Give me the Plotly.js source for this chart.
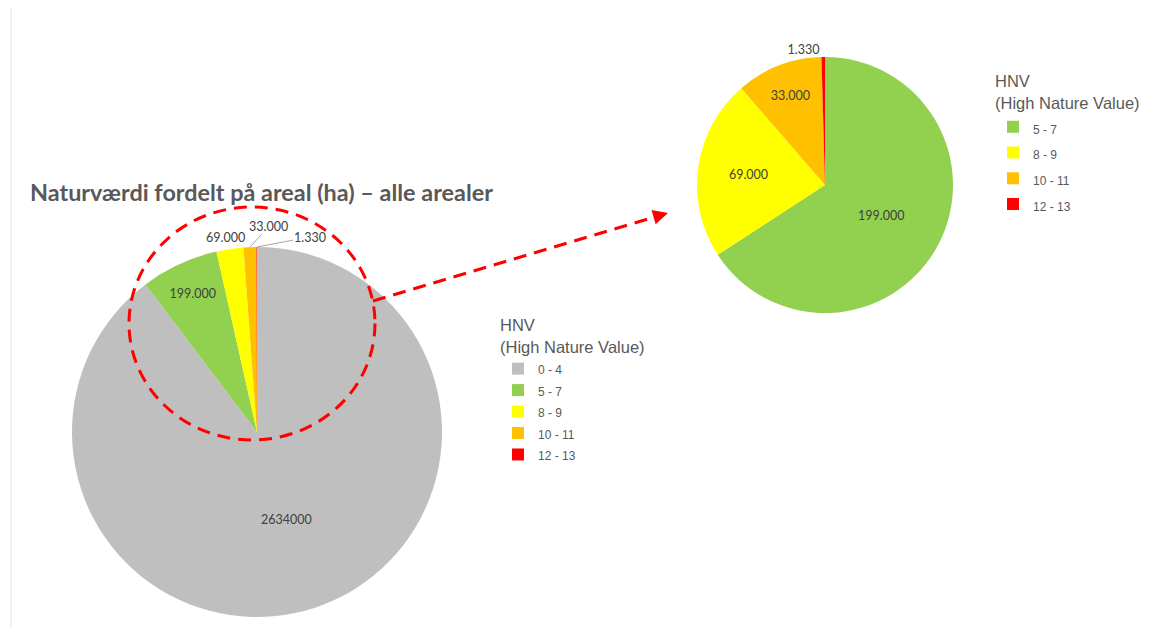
<!DOCTYPE html>
<html>
<head>
<meta charset="utf-8">
<script src="https://cdn.plot.ly/plotly-3.0.1.min.js"></script>
<style>html,body{margin:0;padding:0;background:#fff;}#chart{width:1162px;height:628px;}</style>
</head>
<body>
<div id="chart"></div>
<script>
// ---- data ----
const titleText = 'Naturværdi fordelt på areal (ha) – alle arealer';
const legendTitle = 'HNV<br>(High Nature Value)';

const allLabels = ['0 - 4', '5 - 7', '8 - 9', '10 - 11', '12 - 13'];
const allValues = [2634000, 199000, 69000, 33000, 1330];
const allColors = ['#bfbfbf', '#92d050', '#ffff00', '#ffc000', '#ff0000'];
const allTextPos = ['inside', 'inside', 'none', 'none', 'none'];
const allFormat = ['%{value:d}', '%{value:,}', '%{value:,}', '%{value:,}', '%{value:,}'];

const hnvLabels = ['5 - 7', '8 - 9', '10 - 11', '12 - 13'];
const hnvValues = [199000, 69000, 33000, 1330];
const hnvColors = ['#92d050', '#ffff00', '#ffc000', '#ff0000'];
const hnvTextPos = ['inside', 'inside', 'inside', 'outside'];
const hnvFormat = ['%{value:,}', '%{value:,}', '%{value:,}', '%{value:,}'];

// ---- helpers ----
const W = 1162, H = 628;
const px = v => v / W;
const py = v => 1 - v / H;
const wrap1 = l => '<span style="font-size:12px">' + l + '</span>';
const wrap2 = l => '<span style="font-size:12px;">' + l + '</span>';
const fmtDK = v => String(v).replace(/\B(?=(\d{3})+(?!\d))/g, '.');

const labelFont = {family: 'Lato, "Open Sans", sans-serif', size: 12.5, color: '#404040'};

// big pie geometry (pixels)
const bigCx = 257, bigCy = 432, bigR = 185;
const smlCx = 825, smlCy = 185, smlR = 128;

// point on the rim of the big pie at the middle angle of slice i (clockwise from 12 o'clock)
function rimPoint(values, i, cx, cy, r) {
  const total = values.reduce((a, b) => a + b, 0);
  let before = 0;
  for (let k = 0; k < i; k++) before += values[k];
  const ang = 2 * Math.PI * (before + values[i] / 2) / total;
  return {x: px(cx + r * Math.sin(ang)), y: py(cy - r * Math.cos(ang))};
}

const traces = [
  {
    type: 'pie',
    name: 'alle arealer',
    labels: allLabels.map(wrap1),
    values: allValues,
    sort: false,
    direction: 'clockwise',
    rotation: 0,
    marker: {colors: allColors, line: {width: 0}},
    texttemplate: allFormat,
    textposition: allTextPos,
    insidetextorientation: 'horizontal',
    textfont: labelFont,
    outsidetextfont: labelFont,
    insidetextfont: labelFont,
    domain: {x: [px(bigCx - bigR), px(bigCx + bigR)], y: [py(bigCy + bigR), py(bigCy - bigR)]},
    legend: 'legend',
    hoverinfo: 'label+value'
  },
  {
    type: 'pie',
    name: 'HNV',
    labels: hnvLabels.map(wrap2),
    values: hnvValues,
    sort: false,
    direction: 'clockwise',
    rotation: 0,
    marker: {colors: hnvColors, line: {width: 0}},
    texttemplate: hnvFormat,
    textposition: hnvTextPos,
    insidetextorientation: 'horizontal',
    textfont: labelFont,
    outsidetextfont: labelFont,
    insidetextfont: labelFont,
    domain: {x: [px(smlCx - smlR), px(smlCx + smlR)], y: [py(smlCy + smlR), py(smlCy - smlR)]},
    legend: 'legend2',
    hoverinfo: 'label+value'
  }
];

// outside labels of the three small slices in the big pie (offsets in px from the rim)
const outsideOffsets = {2: {ax: -4, ay: -12, line: 'rgba(0,0,0,0)'},
                        3: {ax: 19, ay: -21, line: '#a6a6a6'},
                        4: {ax: 53, ay: -10, line: '#a6a6a6'}};
const labelAnnotations = Object.keys(outsideOffsets).map(k => {
  const i = +k, o = outsideOffsets[k];
  const p = rimPoint(allValues, i, bigCx, bigCy, bigR);
  return {xref: 'paper', yref: 'paper', x: p.x, y: p.y, text: fmtDK(allValues[i]),
          showarrow: true, arrowhead: 0, arrowwidth: 1, arrowcolor: o.line,
          ax: o.ax, ay: o.ay, standoff: 0, startstandoff: 0,
          font: labelFont, borderpad: 0};
});

const legendTitleFont = {family: '"Liberation Sans", Arial, sans-serif', size: 16.5, color: '#595959'};

const layout = {
  width: W, height: H,
  margin: {l: 0, r: 0, t: 0, b: 0},
  paper_bgcolor: '#ffffff',
  plot_bgcolor: '#ffffff',
  separators: ',.',
  showlegend: true,
  title: {
    text: '<b>' + titleText + '</b>',
    font: {family: 'Lato, "Open Sans", sans-serif', size: 23.4, color: '#595959'},
    xref: 'paper', yref: 'paper',
    x: px(30), xanchor: 'left',
    y: py(193), yanchor: 'middle'
  },
  legend: {
    title: {text: legendTitle, font: legendTitleFont},
    font: {family: '"Liberation Sans", Arial, sans-serif', size: 14.2, color: '#595959'},
    x: px(498), xanchor: 'left',
    y: py(310), yanchor: 'top',
    bgcolor: 'rgba(0,0,0,0)'
  },
  legend2: {
    title: {text: legendTitle, font: legendTitleFont},
    font: {family: '"Liberation Sans", Arial, sans-serif', size: 17.5, color: '#595959'},
    x: px(993), xanchor: 'left',
    y: py(66), yanchor: 'top',
    bgcolor: 'rgba(0,0,0,0)'
  },
  shapes: [
    {type: 'line', xref: 'paper', yref: 'paper', x0: px(11), x1: px(11), y0: py(8), y1: py(628),
     line: {color: '#e3e3e3', width: 1}},
    {type: 'circle', xref: 'paper', yref: 'paper', x0: px(129), x1: px(375), y0: py(440), y1: py(207),
     line: {color: '#ff0000', width: 3, dash: '13px,8px'}},
    {type: 'line', xref: 'paper', yref: 'paper', x0: px(373), y0: py(301), x1: px(658), y1: py(216),
     line: {color: '#ff0000', width: 3, dash: '13px,8px'}}
  ],
  annotations: labelAnnotations.concat([
    {xref: 'paper', yref: 'paper', x: px(668), y: py(213), text: '', showarrow: true,
     arrowhead: 2, arrowsize: 1, arrowwidth: 3, arrowcolor: '#ff0000', ax: -14, ay: 4}
  ])
};

Plotly.newPlot('chart', traces, layout, {displayModeBar: false, staticPlot: true});
</script>
</body>
</html>
